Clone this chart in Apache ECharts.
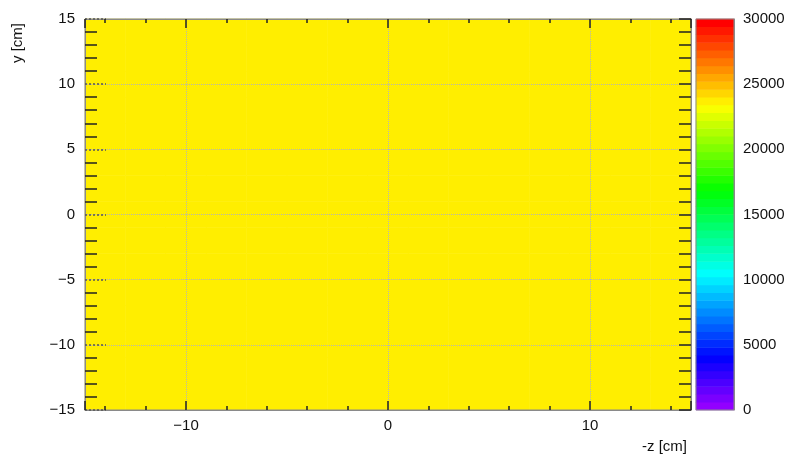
<!DOCTYPE html>
<html>
<head>
<meta charset="utf-8">
<script src="https://cdn.jsdelivr.net/npm/echarts@6/dist/echarts.min.js"></script>
<style>
  html, body { margin: 0; padding: 0; background: #fff; }
  #chart { width: 790px; height: 457px; }
</style>
</head>
<body>
<div id="chart"></div>
<script>
// bin centres along -z and y [cm], 2 cm bins
const zBins = [-14, -12, -10, -8, -6, -4, -2, 0, 2, 4, 6, 8, 10, 12, 14];
const yBins = [-14, -12, -10, -8, -6, -4, -2, 0, 2, 4, 6, 8, 10, 12, 14];
// every bin holds the same content (flat map)
const binContent = 23700;
// colour scale
const zMin = 0;
const zMax = 30000;
const nLevels = 50;

const FONT = 'Liberation Sans, Arial, Helvetica, sans-serif';

// root "pretty" palette: violet -> red in HLS
function hls2rgb(h, l, s) {
  const q = l < 0.5 ? l * (1 + s) : l + s - l * s;
  const p = 2 * l - q;
  const f = t => {
    if (t < 0) t += 1;
    if (t > 1) t -= 1;
    if (t < 1 / 6) return p + (q - p) * 6 * t;
    if (t < 1 / 2) return q;
    if (t < 2 / 3) return p + (q - p) * (2 / 3 - t) * 6;
    return p;
  };
  const c = v => Math.round(v * 255);
  return 'rgb(' + c(f(h + 1 / 3)) + ',' + c(f(h)) + ',' + c(f(h - 1 / 3)) + ')';
}
const step = (zMax - zMin) / nLevels;
let pieces = [];
let levelCats = [];
let barData = [];
for (let i = 0; i < nLevels; i++) {
  const hue = (280 - (i + 1) * (280 / nLevels)) / 360;
  pieces.push({ gte: zMin + i * step, lt: zMin + (i + 1) * step, color: hls2rgb(hue, 0.5, 1) });
  levelCats.push(String(i));
  barData.push([0, i, zMin + (i + 0.5) * step]);
}
pieces[nLevels - 1].lte = zMax;
delete pieces[nLevels - 1].lt;

let mapData = [];
zBins.forEach((z, i) => {
  yBins.forEach((y, j) => {
    mapData.push([i, j, binContent]);
  });
});

const minus = v => String(v).replace('-', '\u2212');
const labelStyle = { color: '#111', fontSize: 15, fontFamily: FONT };
const frameLine = { show: true, onZero: false, lineStyle: { color: '#8a8a8a', width: 1 } };
const gridLine = { show: true, lineStyle: { color: '#b4b4b4', type: 'dotted', width: 1 } };
const tickLine = { color: '#222', width: 1.5 };

const chart = echarts.init(document.getElementById('chart'), null, { renderer: 'canvas' });
chart.setOption({
  animation: false,
  backgroundColor: '#fff',
  grid: [
    { left: 85, right: 99, top: 19, bottom: 47, show: true, borderColor: '#8a8a8a', borderWidth: 1, z: 4 },
    { left: 696, width: 38, top: 19, bottom: 47, show: true, borderColor: '#8a8a8a', borderWidth: 1, z: 4 }
  ],
  xAxis: [
    { type: 'category', gridIndex: 0, data: zBins, show: false },
    {
      type: 'value', gridIndex: 0, position: 'bottom', min: -15, max: 15, splitNumber: 3, z: 5,
      axisLine: frameLine,
      axisTick: { inside: true, length: 9, lineStyle: tickLine },
      minorTick: { show: true, splitNumber: 5, length: 4, lineStyle: tickLine },
      axisLabel: Object.assign({ margin: 8, showMinLabel: false, showMaxLabel: false, formatter: minus }, labelStyle),
      splitLine: gridLine
    },
    {
      type: 'value', gridIndex: 0, position: 'top', min: -15, max: 15, splitNumber: 3, z: 5,
      axisLine: frameLine,
      axisTick: { inside: true, length: 9, lineStyle: tickLine },
      minorTick: { show: true, splitNumber: 5, length: 4, lineStyle: tickLine },
      axisLabel: { show: false },
      splitLine: { show: false }
    },
    { type: 'category', gridIndex: 1, data: ['c'], show: false }
  ],
  yAxis: [
    { type: 'category', gridIndex: 0, data: yBins, show: false },
    {
      type: 'value', gridIndex: 0, position: 'left', min: -15, max: 15, splitNumber: 6, z: 5,
      axisLine: frameLine,
      axisTick: { inside: true, length: 21, lineStyle: { color: '#555', width: 1.5, type: [2, 2] } },
      minorTick: { show: true, splitNumber: 5, length: 12, lineStyle: tickLine },
      axisLabel: Object.assign({ margin: 10, formatter: minus }, labelStyle),
      splitLine: gridLine
    },
    {
      type: 'value', gridIndex: 0, position: 'right', min: -15, max: 15, splitNumber: 6, z: 5,
      axisLine: frameLine,
      axisTick: { inside: true, length: 12, lineStyle: tickLine },
      minorTick: { show: true, splitNumber: 5, length: 12, lineStyle: tickLine },
      axisLabel: { show: false },
      splitLine: { show: false }
    },
    { type: 'category', gridIndex: 1, data: levelCats, show: false },
    {
      type: 'value', gridIndex: 1, position: 'right', min: zMin, max: zMax, interval: 5000, z: 5,
      axisLine: frameLine,
      axisTick: { inside: true, length: 22, lineStyle: { color: '#333', width: 1.2 } },
      axisLabel: Object.assign({ margin: 9, formatter: v => String(v) }, labelStyle),
      splitLine: { show: false }
    }
  ],
  visualMap: {
    type: 'piecewise',
    show: false,
    dimension: 2,
    seriesIndex: [0, 1],
    pieces: pieces
  },
  series: [
    {
      type: 'heatmap', xAxisIndex: 0, yAxisIndex: 0, data: mapData,
      emphasis: { disabled: true }, silent: true
    },
    {
      type: 'heatmap', xAxisIndex: 3, yAxisIndex: 3, data: barData,
      emphasis: { disabled: true }, silent: true
    }
  ],
  graphic: [
    {
      type: 'text', x: 687, y: 447,
      style: { text: '-z [cm]', textAlign: 'right', textVerticalAlign: 'middle', fill: '#111', fontSize: 15, fontFamily: FONT }
    },
    {
      type: 'text', x: 18, y: 23, rotation: Math.PI / 2,
      style: { text: 'y [cm]', textAlign: 'right', textVerticalAlign: 'middle', fill: '#111', fontSize: 15, fontFamily: FONT }
    }
  ]
});
</script>
</body>
</html>
